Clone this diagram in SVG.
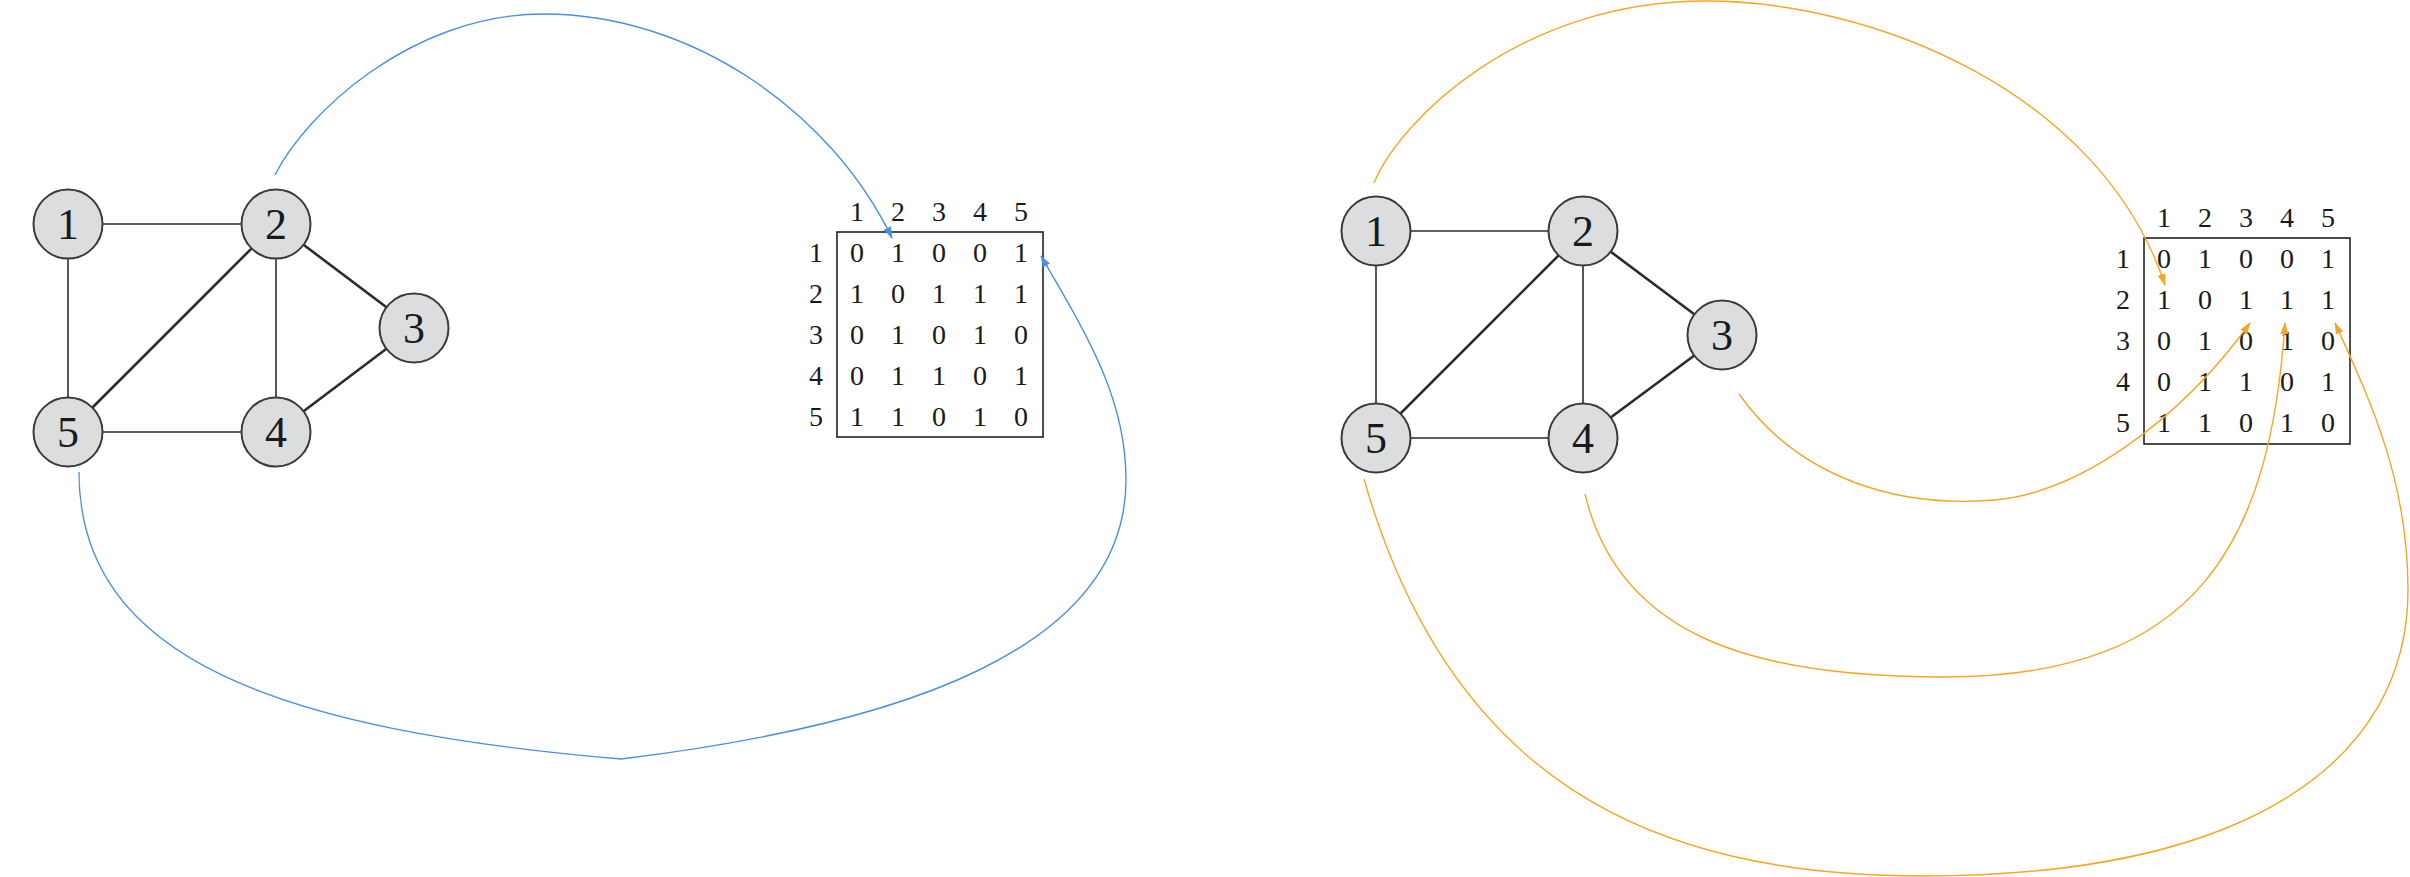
<svg xmlns="http://www.w3.org/2000/svg" width="2410" height="877" viewBox="0 0 2410 877">
  <style>
    .edge { stroke: #2b2b2b; stroke-width: 1.6; fill: none; }
    .edge.bold { stroke-width: 2.6; }
    .node circle { fill: #dcdddf; stroke: #3a3a3a; stroke-width: 2; }
    .node text { font-family: "Liberation Serif", "Times New Roman", serif; font-size: 44px; fill: #1a1a1a; text-anchor: middle; }
    .matrix text { font-family: "Liberation Serif", "Times New Roman", serif; font-size: 28px; fill: #1a1a1a; text-anchor: middle; }
    .matrix rect { fill: none; stroke: #222; stroke-width: 1.6; }
    .blue { stroke: #4a90e2; stroke-width: 1.4; fill: none; }
    .orange { stroke: #f5a623; stroke-width: 1.4; fill: none; }
  </style>
  <defs>
    <marker id="arrow-blue" markerUnits="userSpaceOnUse" markerWidth="12" markerHeight="8" refX="11" refY="4" orient="auto">
      <path d="M0,0 L12,4 L0,8 z" fill="#4a90e2"/>
    </marker>
    <marker id="arrow-orange" markerUnits="userSpaceOnUse" markerWidth="12" markerHeight="8" refX="11" refY="4" orient="auto">
      <path d="M0,0 L12,4 L0,8 z" fill="#f5a623"/>
    </marker>
  </defs>

  <rect width="2410" height="877" fill="#ffffff"/>

  <!-- left graph edges -->
  <g id="graph-left-edges">
    <line class="edge" x1="68" y1="224" x2="276" y2="224"/>
    <line class="edge" x1="68" y1="224" x2="68" y2="432"/>
    <line class="edge" x1="276" y1="224" x2="276" y2="432"/>
    <line class="edge" x1="68" y1="432" x2="276" y2="432"/>
    <line class="edge bold" x1="276" y1="224" x2="68" y2="432"/>
    <line class="edge bold" x1="276" y1="224" x2="414" y2="328"/>
    <line class="edge bold" x1="414" y1="328" x2="276" y2="432"/>
  </g>
  <g id="L1" class="node"><circle cx="68" cy="224" r="34.5"/><text x="68" y="239">1</text></g>
  <g id="L2" class="node"><circle cx="276" cy="224" r="34.5"/><text x="276" y="239">2</text></g>
  <g id="L3" class="node"><circle cx="414" cy="328" r="34.5"/><text x="414" y="343">3</text></g>
  <g id="L4" class="node"><circle cx="276" cy="432" r="34.5"/><text x="276" y="447">4</text></g>
  <g id="L5" class="node"><circle cx="68" cy="432" r="34.5"/><text x="68" y="447">5</text></g>

  <!-- left adjacency matrix -->
  <g id="matrix-left" class="matrix">
    <rect x="837" y="232" width="206" height="205"/>
    <text x="857" y="221">1</text><text x="898" y="221">2</text><text x="939" y="221">3</text><text x="980" y="221">4</text><text x="1021" y="221">5</text>
    <text x="816" y="262">1</text><text x="816" y="303">2</text><text x="816" y="344">3</text><text x="816" y="385">4</text><text x="816" y="426">5</text>
    <text x="857" y="262">0</text><text x="898" y="262">1</text><text x="939" y="262">0</text><text x="980" y="262">0</text><text x="1021" y="262">1</text>
    <text x="857" y="303">1</text><text x="898" y="303">0</text><text x="939" y="303">1</text><text x="980" y="303">1</text><text x="1021" y="303">1</text>
    <text x="857" y="344">0</text><text x="898" y="344">1</text><text x="939" y="344">0</text><text x="980" y="344">1</text><text x="1021" y="344">0</text>
    <text x="857" y="385">0</text><text x="898" y="385">1</text><text x="939" y="385">1</text><text x="980" y="385">0</text><text x="1021" y="385">1</text>
    <text x="857" y="426">1</text><text x="898" y="426">1</text><text x="939" y="426">0</text><text x="980" y="426">1</text><text x="1021" y="426">0</text>
  </g>

  <!-- right graph edges -->
  <g id="graph-right-edges">
    <line class="edge" x1="1376" y1="231" x2="1583" y2="231"/>
    <line class="edge" x1="1376" y1="231" x2="1376" y2="438"/>
    <line class="edge" x1="1583" y1="231" x2="1583" y2="438"/>
    <line class="edge" x1="1376" y1="438" x2="1583" y2="438"/>
    <line class="edge bold" x1="1583" y1="231" x2="1376" y2="438"/>
    <line class="edge bold" x1="1583" y1="231" x2="1722" y2="335"/>
    <line class="edge bold" x1="1722" y1="335" x2="1583" y2="438"/>
  </g>
  <g id="R1" class="node"><circle cx="1376" cy="231" r="34.5"/><text x="1376" y="246">1</text></g>
  <g id="R2" class="node"><circle cx="1583" cy="231" r="34.5"/><text x="1583" y="246">2</text></g>
  <g id="R3" class="node"><circle cx="1722" cy="335" r="34.5"/><text x="1722" y="350">3</text></g>
  <g id="R4" class="node"><circle cx="1583" cy="438" r="34.5"/><text x="1583" y="453">4</text></g>
  <g id="R5" class="node"><circle cx="1376" cy="438" r="34.5"/><text x="1376" y="453">5</text></g>

  <!-- right adjacency matrix -->
  <g id="matrix-right" class="matrix">
    <rect x="2144" y="238" width="206" height="206"/>
    <text x="2164" y="227">1</text><text x="2205" y="227">2</text><text x="2246" y="227">3</text><text x="2287" y="227">4</text><text x="2328" y="227">5</text>
    <text x="2123" y="268">1</text><text x="2123" y="309">2</text><text x="2123" y="350">3</text><text x="2123" y="391">4</text><text x="2123" y="432">5</text>
    <text x="2164" y="268">0</text><text x="2205" y="268">1</text><text x="2246" y="268">0</text><text x="2287" y="268">0</text><text x="2328" y="268">1</text>
    <text x="2164" y="309">1</text><text x="2205" y="309">0</text><text x="2246" y="309">1</text><text x="2287" y="309">1</text><text x="2328" y="309">1</text>
    <text x="2164" y="350">0</text><text x="2205" y="350">1</text><text x="2246" y="350">0</text><text x="2287" y="350">1</text><text x="2328" y="350">0</text>
    <text x="2164" y="391">0</text><text x="2205" y="391">1</text><text x="2246" y="391">1</text><text x="2287" y="391">0</text><text x="2328" y="391">1</text>
    <text x="2164" y="432">1</text><text x="2205" y="432">1</text><text x="2246" y="432">0</text><text x="2287" y="432">1</text><text x="2328" y="432">0</text>
  </g>

  <!-- connectors from nodes to matrix cells -->
  <g id="connectors">
    <path class="blue" d="M275,175 C305,115 410,14 544,14 C690,14 830,110 892,238" marker-end="url(#arrow-blue)"/>
    <path class="blue" d="M79,472 C79,660 280,730 621,759 C900,725 1126,650 1126,480 C1126,400 1090,340 1041,256" marker-end="url(#arrow-blue)"/>
    <path class="orange" d="M1374,183 C1400,120 1520,1 1706,1 C1870,1 2100,90 2165,285" marker-end="url(#arrow-orange)"/>
    <path class="orange" d="M1739,394 C1800,480 1900,508 1994,500 C2080,492.7 2180,420 2250,323" marker-end="url(#arrow-orange)"/>
    <path class="orange" d="M1585,494 C1620,640 1760,677 1944,677 C2200,677 2270,540 2285,323" marker-end="url(#arrow-orange)"/>
    <path class="orange" d="M1364,479 C1450,780 1650,876 1923,876 C2250,876 2408,760 2408,590 C2408,480 2370,400 2335,323" marker-end="url(#arrow-orange)"/>
  </g>
</svg>
